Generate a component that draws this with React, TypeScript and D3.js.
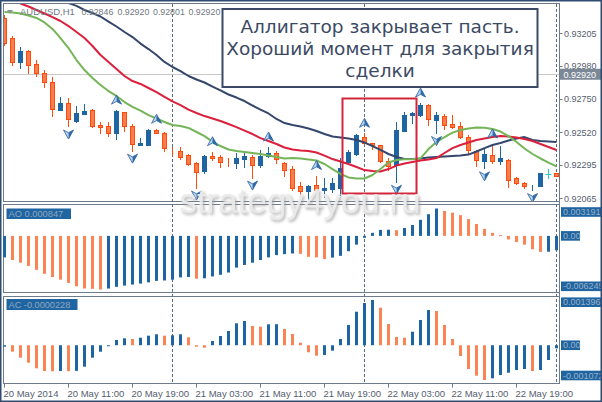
import React from "react";
import * as d3 from "d3";

// ---- candles (AUDUSD H1) ----
const openP = [0.93309,0.93168,0.93007,0.93081,0.92991,0.92927,0.92864,0.92673,0.92719,0.92599,0.92642,0.92673,0.92569,0.92562,0.92512,0.92657,0.92562,0.92431,0.92431,0.92535,0.92512,0.92400,0.92393,0.92359,0.92305,0.92251,0.92355,0.92346,0.92313,0.92309,0.92336,0.92350,0.92296,0.92353,0.92376,0.92309,0.92264,0.92148,0.92110,0.92155,0.92120,0.92130,0.92137,0.92317,0.92371,0.92488,0.92443,0.92428,0.92321,0.92293,0.92530,0.92638,0.92638,0.92707,0.92607,0.92635,0.92576,0.92560,0.92484,0.92393,0.92323,0.92362,0.92323,0.92331,0.92204,0.92168,0.92142,0.92146,0.92232,0.92239];
const highP = [0.93329,0.93184,0.93110,0.93088,0.93018,0.92949,0.92899,0.92761,0.92754,0.92701,0.92714,0.92680,0.92592,0.92590,0.92672,0.92662,0.92573,0.92477,0.92542,0.92540,0.92520,0.92419,0.92417,0.92366,0.92314,0.92362,0.92385,0.92359,0.92339,0.92378,0.92386,0.92359,0.92397,0.92417,0.92390,0.92316,0.92286,0.92175,0.92155,0.92220,0.92206,0.92201,0.92341,0.92397,0.92509,0.92512,0.92445,0.92431,0.92338,0.92592,0.92661,0.92661,0.92721,0.92712,0.92659,0.92645,0.92638,0.92590,0.92500,0.92400,0.92410,0.92438,0.92424,0.92334,0.92213,0.92177,0.92158,0.92240,0.92262,0.92241];
const lowP = [0.93122,0.92984,0.92961,0.92931,0.92908,0.92830,0.92634,0.92673,0.92559,0.92592,0.92642,0.92558,0.92512,0.92493,0.92473,0.92530,0.92392,0.92428,0.92428,0.92513,0.92393,0.92362,0.92334,0.92293,0.92137,0.92236,0.92327,0.92281,0.92286,0.92270,0.92279,0.92206,0.92281,0.92348,0.92305,0.92217,0.92120,0.92079,0.92061,0.92092,0.92070,0.92108,0.92089,0.92300,0.92365,0.92441,0.92406,0.92314,0.92258,0.92177,0.92528,0.92581,0.92631,0.92569,0.92514,0.92545,0.92549,0.92479,0.92369,0.92289,0.92270,0.92307,0.92300,0.92141,0.92162,0.92132,0.92120,0.92146,0.92201,0.92214];
const closeP = [0.93136,0.93007,0.93081,0.92984,0.92927,0.92864,0.92678,0.92719,0.92609,0.92650,0.92666,0.92564,0.92558,0.92512,0.92668,0.92560,0.92438,0.92445,0.92535,0.92516,0.92408,0.92397,0.92350,0.92300,0.92245,0.92355,0.92338,0.92314,0.92311,0.92341,0.92355,0.92291,0.92355,0.92376,0.92334,0.92258,0.92137,0.92110,0.92148,0.92120,0.92134,0.92168,0.92272,0.92381,0.92497,0.92443,0.92428,0.92321,0.92286,0.92535,0.92638,0.92654,0.92707,0.92609,0.92638,0.92566,0.92558,0.92484,0.92399,0.92325,0.92367,0.92323,0.92341,0.92189,0.92167,0.92146,0.92144,0.92236,0.92232,0.92215];

// ---- Alligator lines (shifted, per bar) ----
const jaw = [null,null,null,null,null,null,0.93454,0.93436,0.93412,0.93392,0.93364,0.93343,0.93319,0.93284,0.93250,0.93212,0.93177,0.93132,0.93094,0.93053,0.93005,0.92970,0.92942,0.92908,0.92884,0.92863,0.92835,0.92808,0.92780,0.92759,0.92735,0.92704,0.92676,0.92649,0.92611,0.92583,0.92569,0.92559,0.92545,0.92528,0.92507,0.92490,0.92483,0.92476,0.92466,0.92448,0.92424,0.92397,0.92369,0.92348,0.92334,0.92334,0.92338,0.92345,0.92348,0.92352,0.92355,0.92358,0.92365,0.92386,0.92410,0.92431,0.92445,0.92462,0.92476,0.92486,0.92466,0.92459,0.92455,0.92452];
const teeth = [null,0.93436,0.93409,0.93388,0.93364,0.93340,0.93315,0.93288,0.93253,0.93212,0.93170,0.93115,0.93053,0.93005,0.92956,0.92908,0.92873,0.92853,0.92825,0.92797,0.92763,0.92732,0.92707,0.92676,0.92652,0.92631,0.92614,0.92597,0.92576,0.92555,0.92531,0.92507,0.92479,0.92459,0.92438,0.92414,0.92400,0.92393,0.92390,0.92379,0.92358,0.92334,0.92317,0.92300,0.92279,0.92258,0.92251,0.92248,0.92265,0.92289,0.92303,0.92314,0.92324,0.92331,0.92341,0.92376,0.92410,0.92431,0.92448,0.92466,0.92476,0.92486,0.92493,0.92490,0.92483,0.92472,0.92459,0.92438,0.92417,0.92397];
const lips = [0.93350,0.93347,0.93340,0.93326,0.93309,0.93278,0.93233,0.93170,0.93101,0.93018,0.92949,0.92894,0.92846,0.92804,0.92770,0.92728,0.92694,0.92669,0.92638,0.92614,0.92590,0.92569,0.92562,0.92549,0.92521,0.92493,0.92455,0.92424,0.92400,0.92390,0.92383,0.92376,0.92369,0.92358,0.92348,0.92338,0.92341,0.92338,0.92331,0.92324,0.92300,0.92265,0.92231,0.92207,0.92200,0.92200,0.92224,0.92265,0.92310,0.92327,0.92332,0.92332,0.92339,0.92403,0.92452,0.92486,0.92517,0.92535,0.92545,0.92552,0.92550,0.92542,0.92524,0.92493,0.92452,0.92407,0.92369,0.92338,0.92310,0.92283];

// ---- Fractals (bar indices) ----
const fractalUp = [14,19,26,33,39,45,52,61];
const fractalDown = [8,16,24,31,49,54,60,66];

// ---- Oscillators ----
const aoValues = [-0.002505,-0.002814,-0.003123,-0.003500,-0.003958,-0.004416,-0.004793,-0.005102,-0.005480,-0.005869,-0.006132,-0.006166,-0.006245,-0.006132,-0.005937,-0.005789,-0.005674,-0.005560,-0.005411,-0.005240,-0.005194,-0.005102,-0.004839,-0.004793,-0.004988,-0.004942,-0.004725,-0.004530,-0.004267,-0.003695,-0.003386,-0.003123,-0.002814,-0.002505,-0.002242,-0.002128,-0.002048,-0.002094,-0.002437,-0.002505,-0.002700,-0.002528,-0.002322,-0.001785,-0.001018,-0.000217,0.000355,0.000698,0.000721,0.000664,0.000927,0.001270,0.001876,0.002528,0.003191,0.002906,0.002711,0.002414,0.001956,0.001384,0.000812,0.000355,0.000092,-0.000412,-0.000721,-0.001018,-0.001556,-0.001865,-0.001842,-0.001670];
const acValues = [-0.000045,-0.000199,-0.000384,-0.000538,-0.000711,-0.000794,-0.000804,-0.000794,-0.000801,-0.000791,-0.000662,-0.000384,-0.000199,-0.000017,0.000162,0.000214,0.000193,0.000233,0.000295,0.000338,0.000295,0.000307,0.000338,0.000245,-0.000045,-0.000076,0.000131,0.000285,0.000440,0.000677,0.000748,0.000594,0.000572,0.000646,0.000649,0.000501,0.000347,0.000079,-0.000217,-0.000322,-0.000301,-0.000168,0.000193,0.000625,0.001035,0.001303,0.001396,0.001158,0.000656,0.000255,0.000233,0.000418,0.000779,0.001087,0.001057,0.000625,0.000193,-0.000332,-0.000733,-0.000939,-0.001072,-0.001020,-0.000918,-0.000847,-0.000764,-0.000733,-0.000794,-0.000764,-0.000455,-0.000094];

// ---- Axis texts ----
const timeLabels = ["20 May 2014","20 May 11:00","20 May 19:00","21 May 03:00","21 May 11:00","21 May 19:00","22 May 03:00","22 May 11:00","22 May 19:00"];
const timeLabelBars = [0,8,16,24,32,40,48,56,64];
const priceTicks = [0.93205,0.92980,0.92750,0.92520,0.92295,0.92065];
const bidPrice = 0.92920;
const separatorBars = [21,45,69];
const headerTexts = ["AUDUSD,H1","0.92846","0.92920","0.92801","0.92920"];
const aoScale = [-0.006245, 0.003191];
const acScale = [-0.001072, 0.001396];
const aoLabel = "AO 0.000847";
const acLabel = "AC -0.0000228";
const annotationLines = ["Аллигатор закрывает пасть.","Хороший момент для закрытия","сделки"];
const watermark = "strategy4you.ru";

const FONT = "'Liberation Sans', Arial, sans-serif";
const BLUE = "#1f65a2";
const OR_FILL = "#fd7c4c";
const OR_LINE = "#ff4a0a";
const HIST_OR = "#fb8456";
const GRID = "#6e7b8b";
const AXT = "#55606e";

function Fractal({ cx, cy, dir }: { cx: number; cy: number; dir: "up" | "down" }) {
  const s = dir === "up" ? 1 : -1;
  const tip = [cx, cy - 5 * s];
  const l = [cx - 5, cy + 4 * s];
  const r = [cx + 5, cy + 4 * s];
  const notch = [cx, cy + 1.3 * s];
  const p = (a: number[]) => `${a[0]},${a[1]}`;
  return (
    <g>
      <polygon points={`${p(tip)} ${p(l)} ${p(notch)}`} fill="#b9d5ef" />
      <polygon points={`${p(tip)} ${p(r)} ${p(notch)}`} fill="#2a6cb0" />
      <polygon points={`${p(tip)} ${p(l)} ${p(notch)} ${p(r)}`} fill="none" stroke="#2a5f9c" strokeWidth={0.8} strokeLinejoin="round" />
    </g>
  );
}

export default function App() {
  const n = openP.length;
  const x = d3.scaleLinear().domain([0, n - 1]).range([4.5, 556.5]);
  const yP = d3.scaleLinear().domain([0.92065, 0.93205]).range([198, 33]);
  const yAO = d3.scaleLinear().domain(aoScale).range([289.5, 208.5]);
  const yAC = d3.scaleLinear().domain(acScale).range([380, 300]);

  const mkLine = (arr: (number | null)[]) =>
    d3.line<number | null>()
      .defined((v) => v != null)
      .x((_, i) => x(i))
      .y((v) => yP(v as number))(arr) || "";

  const hist = (vals: number[], ys: d3.ScaleLinear<number, number>, key: string) =>
    vals.map((v, i) => {
      const up = i === 0 ? true : v >= vals[i - 1];
      const y0 = ys(0), y1 = ys(v);
      return (
        <rect key={key + i} x={x(i) - 1.5} width={3} y={Math.min(y0, y1)} height={Math.max(1, Math.abs(y1 - y0))}
          fill={up ? BLUE : HIST_OR} />
      );
    });

  const bidY = Math.round(yP(bidPrice)) + 0.5;
  const headerX = [20, 81.5, 117.5, 153, 188.5];

  return (
    <div style={{ position: "absolute", left: 0, top: 0, width: 602, height: 402 }}>
      <svg width={602} height={402} viewBox="0 0 602 402" style={{ display: "block" }}>
        <defs>
          <clipPath id="mainClip"><rect x={4} y={4} width={555} height={197} /></clipPath>
          <filter id="wmShadow" x="-10%" y="-30%" width="120%" height="160%"><feGaussianBlur stdDeviation="1.6" /></filter>
          <filter id="wmSoft" x="-10%" y="-30%" width="120%" height="160%"><feGaussianBlur stdDeviation="0.7" /></filter>
        </defs>
        <rect x={0} y={0} width={602} height={402} fill="#ffffff" />

        {/* panels */}
        <rect x={3.5} y={3.5} width={556} height={198} fill="none" stroke={GRID} />
        <rect x={3.5} y={204.5} width={556} height={88} fill="none" stroke={GRID} />
        <rect x={3.5} y={296.5} width={556} height={87} fill="none" stroke={GRID} />

        {/* separators */}
        {separatorBars.map((b) => (
          <line key={"sep" + b} x1={x(b)} x2={x(b)} y1={4} y2={383} stroke="#5d6b80" strokeDasharray="3,2" />
        ))}

        {/* bid line */}
        <line x1={4} x2={559} y1={bidY} y2={bidY} stroke="#c9c9c9" />

        {/* candles */}
        <g clipPath="url(#mainClip)">
          {openP.map((o, i) => {
            const c = closeP[i];
            const cx = x(i);
            const kind = c > o ? "up" : c < o ? "down" : "doji";
            const col = kind === "up" ? BLUE : kind === "down" ? OR_LINE : "#35c3bd";
            const fill = kind === "up" ? BLUE : kind === "down" ? OR_FILL : "#35c3bd";
            const yt = Math.round(yP(Math.max(o, c))) + 0.5;
            const yb = Math.round(yP(Math.min(o, c))) + 0.5;
            return (
              <g key={"c" + i}>
                <line x1={cx} x2={cx} y1={Math.round(yP(highP[i]))} y2={Math.round(yP(lowP[i])) + 1} stroke={col} />
                {kind === "doji" ? (
                  <line x1={cx - 3} x2={cx + 3} y1={yt} y2={yt} stroke={col} />
                ) : (
                  <rect x={cx - 2} y={yt} width={4} height={yb - yt} fill={fill} stroke={col} />
                )}
              </g>
            );
          })}
          <path d={mkLine(jaw)} fill="none" stroke="#34466b" strokeWidth={2} strokeLinejoin="round" />
          <path d={mkLine(teeth)} fill="none" stroke="#dc1f3c" strokeWidth={2} strokeLinejoin="round" />
          <path d={mkLine(lips)} fill="none" stroke="#74b558" strokeWidth={2} strokeLinejoin="round" />
          {fractalUp.map((b) => <Fractal key={"fu" + b} cx={x(b)} cy={yP(highP[b]) - 10} dir="up" />)}
          {fractalDown.map((b) => <Fractal key={"fd" + b} cx={x(b)} cy={yP(lowP[b]) + 7.5} dir="down" />)}
        </g>

        {/* header */}
        <polygon points="7,10 13,10 10,13.5" fill="#8a9098" />
        {headerTexts.map((t, i) => (
          <text key={"h" + i} x={headerX[i]} y={15} fontSize={i === 0 ? 9.5 : 8.8} fontFamily={FONT} fill="#707880">{t}</text>
        ))}

        {/* annotation box */}
        <rect x={222.5} y={9} width={315} height={78} fill="#ffffff" stroke="#3a4a66" strokeWidth={2} />
        {annotationLines.map((t, i) => (
          <text key={"a" + i} x={380} y={33 + i * 22} textAnchor="middle" fontSize={18.5}
            fontFamily="'DejaVu Sans', Verdana, sans-serif" fill="#3b4a64">{t}</text>
        ))}

        {/* red highlight */}
        <rect x={342.5} y={98.5} width={74} height={95} fill="none" stroke="#d4263b" strokeWidth={2} />

        {/* price axis */}
        {priceTicks.map((p) => {
          const yy = yP(p);
          return (
            <g key={"pt" + p}>
              <line x1={559.5} x2={562.5} y1={Math.round(yy) + 0.5} y2={Math.round(yy) + 0.5} stroke={GRID} />
              <text x={564} y={yy + 3.5} fontSize={9} fontFamily={FONT} fill={AXT}>{p.toFixed(5)}</text>
            </g>
          );
        })}
        <rect x={560} y={yP(bidPrice) - 5.5} width={42} height={11} fill="#7c8896" />
        <text x={563.5} y={yP(bidPrice) + 3.3} fontSize={9} fontFamily={FONT} fill="#ffffff">{bidPrice.toFixed(5)}</text>

        {/* AO */}
        {hist(aoValues, yAO, "ao")}
        <rect x={6.5} y={208.5} width={64.5} height={10.5} fill={BLUE} />
        <text x={8.5} y={217} fontSize={9.3} fontFamily={FONT} fill="#8fa6be">{aoLabel}</text>
        <rect x={561} y={yAO(aoScale[1]) - 1.3} width={41} height={9.6} fill={BLUE} />
        <text x={563} y={yAO(aoScale[1]) + 6.5} fontSize={9} fontFamily={FONT} fill="#9cb0c6">{aoScale[1].toFixed(6)}</text>
        <rect x={561} y={yAO(0) - 4.8} width={19} height={9.6} fill={BLUE} />
        <text x={563} y={yAO(0) + 3.2} fontSize={9} fontFamily={FONT} fill="#9cb0c6">0.00</text>
        <rect x={561} y={yAO(aoScale[0]) - 8} width={41} height={9.6} fill={BLUE} />
        <text x={563} y={yAO(aoScale[0]) - 0.2} fontSize={9} fontFamily={FONT} fill="#9cb0c6">{aoScale[0].toFixed(6)}</text>

        {/* AC */}
        {hist(acValues, yAC, "ac")}
        <rect x={6.5} y={299} width={71} height={11} fill={BLUE} />
        <text x={8.5} y={307.8} fontSize={9.2} fontFamily={FONT} fill="#8fa6be">{acLabel}</text>
        <rect x={561} y={yAC(acScale[1]) - 2.6} width={41} height={9.6} fill={BLUE} />
        <text x={563} y={yAC(acScale[1]) + 5.2} fontSize={9} fontFamily={FONT} fill="#9cb0c6">{acScale[1].toFixed(6)}</text>
        <rect x={561} y={yAC(0) - 4.8} width={19} height={9.6} fill={BLUE} />
        <text x={563} y={yAC(0) + 3.2} fontSize={9} fontFamily={FONT} fill="#9cb0c6">0.00</text>
        <rect x={561} y={yAC(acScale[0]) - 9.3} width={41} height={9.6} fill={BLUE} />
        <text x={563} y={yAC(acScale[0]) - 1.5} fontSize={9} fontFamily={FONT} fill="#9cb0c6">{acScale[0].toFixed(6)}</text>

        {/* right border of plotting area */}
        <line x1={559.5} x2={559.5} y1={3.5} y2={383.5} stroke={GRID} />

        {/* time axis */}
        {timeLabelBars.map((b, k) => (
          <g key={"t" + b}>
            <line x1={x(b)} x2={x(b)} y1={384} y2={387.5} stroke={GRID} />
            <text x={x(b) - 1} y={396.5} fontSize={9.5} fontFamily={FONT} fill={AXT}>{timeLabels[k]}</text>
          </g>
        ))}

        {/* watermark */}
        <g>
          <text x={301.5} y={215} textAnchor="middle" fontSize={35} fontFamily={FONT} fill="#9a9a9a" opacity={0.75} filter="url(#wmShadow)">{watermark}</text>
          <text x={300} y={213} textAnchor="middle" fontSize={35} fontFamily={FONT} fill="#ececec" opacity={0.92} filter="url(#wmSoft)">{watermark}</text>
        </g>

        {/* window frame */}
        <rect x={0.75} y={0.75} width={600.5} height={400.5} fill="none" stroke="#2f4b72" strokeWidth={1.5} />
      </svg>
    </div>
  );
}
